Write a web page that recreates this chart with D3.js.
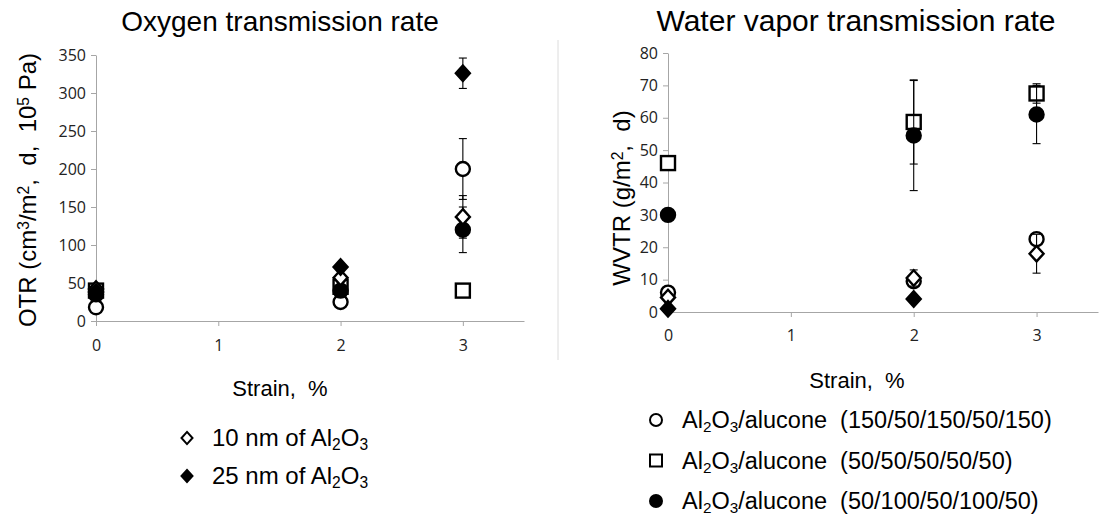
<!DOCTYPE html>
<html>
<head>
<meta charset="utf-8">
<script src="https://cdn.jsdelivr.net/npm/d3@7"></script>
<style>
  body { margin: 0; background: #fff; }
  text { font-family: "Liberation Sans", Arial, sans-serif; fill: #000; }
  .tick text { font-family: "Open Sans", "Liberation Sans", sans-serif; font-size: 16px; fill: #222; }
  .axis path, .axis line { stroke: #a6a6a6; }
</style>
</head>
<body>
<script>
// strain values (x) and tick labels
var strain = [0, 2, 3];
var xTicks = [0, 1, 2, 3];

// oxygen transmission rate
var otrCircle = [18, 25, 200],        otrCircleErr = [0, 0, 40];
var otrSquare = [40, 45, 40],         otrSquareErr = [0, 0, 0];
var otrDot = [35, 40, 120],           otrDotErr = [0, 0, 30];
var otrDiamond = [42, 57, 137],       otrDiamondErr = [0, 0, 28];
var otrDiamondFill = [38, 71, 326],   otrDiamondFillErr = [0, 0, 20];
var otrTicks = [0, 50, 100, 150, 200, 250, 300, 350];

// water vapor transmission rate
var wvtrCircle = [6, 9.5, 22.5],      wvtrCircleErr = [0, 0, 0];
var wvtrSquare = [46, 58.7, 67.5],    wvtrSquareErr = [0, 13, 3];
var wvtrDot = [30, 54.5, 61],         wvtrDotErr = [0, 17, 9];
var wvtrDiamond = [4.5, 10.5, 18],    wvtrDiamondErr = [0, 2.5, 6];
var wvtrDiamondFill = [1, 4, null],   wvtrDiamondFillErr = [0, 0, 0];
var wvtrTicks = [0, 10, 20, 30, 40, 50, 60, 70, 80];

var svg = d3.select("body").append("svg")
    .attr("width", 1111)
    .attr("height", 515);

// marker drawing
function marker(g, shape, size) {
    var s = size;
    if (shape == "circle" || shape == "dot") {
        return g.append("circle").attr("r", s)
            .attr("fill", shape == "dot" ? "#000" : "#fff")
            .attr("stroke", "#000").attr("stroke-width", 2.4);
    }
    if (shape == "square") {
        return g.append("rect").attr("x", -s).attr("y", -s)
            .attr("width", 2 * s).attr("height", 2 * s)
            .attr("fill", "#fff").attr("stroke", "#000").attr("stroke-width", 2.4);
    }
    var d = "M0," + (-s * 1.1) + "L" + s + ",0L0," + (s * 1.1) + "L" + (-s) + ",0Z";
    return g.append("path").attr("d", d)
        .attr("fill", shape == "diamondFill" ? "#000" : "#fff")
        .attr("stroke", "#000").attr("stroke-width", 2.4)
        .attr("stroke-linejoin", "miter");
}

// text with sub/superscripts: parts = [[text, "sub"|"sup"|null], ...]
function richText(sel, parts, fs) {
    parts.forEach(function(p) {
        var t = sel.append("tspan").text(p[0]);
        if (p[1] == "sub") t.attr("font-size", fs * 0.65).attr("baseline-shift", "-25%");
        if (p[1] == "sup") t.attr("font-size", fs * 0.65).attr("baseline-shift", "45%");
    });
    return sel;
}

function drawPanel(o) {
    var x = d3.scaleLinear().domain([0, 3.5]).range(o.xr);
    var y = d3.scaleLinear().domain([0, o.ymax]).range(o.yr);

    svg.append("g")
        .attr("class", "axis x")
        .attr("transform", "translate(0," + o.yr[0] + ")")
        .call(d3.axisBottom(x).tickValues(xTicks).tickFormat(d3.format("d"))
            .tickSize(5).tickSizeOuter(0).tickPadding(o.xpad));

    svg.append("g")
        .attr("class", "axis y")
        .attr("transform", "translate(" + o.xr[0] + ",0)")
        .call(d3.axisLeft(y).tickValues(o.yTicks).tickSize(5).tickSizeOuter(0).tickPadding(5));

    o.series.forEach(function(s) {
        var pts = strain.map(function(v, i) { return { x: v, y: s.values[i], e: s.err[i] }; })
            .filter(function(d) { return d.y != null; });

        var eb = svg.append("g").attr("stroke", "#000").attr("stroke-width", 1.1);
        pts.filter(function(d) { return d.e > 0; }).forEach(function(d) {
            var cx = x(d.x), y0 = y(d.y - d.e), y1 = y(d.y + d.e);
            eb.append("line").attr("x1", cx).attr("x2", cx).attr("y1", y0).attr("y2", y1);
            eb.append("line").attr("x1", cx - 4).attr("x2", cx + 4).attr("y1", y0).attr("y2", y0);
            eb.append("line").attr("x1", cx - 4).attr("x2", cx + 4).attr("y1", y1).attr("y2", y1);
        });

        pts.forEach(function(d) {
            var g = svg.append("g").attr("transform", "translate(" + x(d.x) + "," + y(d.y) + ")");
            marker(g, s.shape, 7);
        });
    });
}

// separator between the two charts
svg.append("line")
    .attr("x1", 558).attr("x2", 558).attr("y1", 40).attr("y2", 360)
    .attr("stroke", "#dcdcdc");

drawPanel({
    xr: [96, 524], yr: [321, 55], ymax: 350, yTicks: otrTicks, xpad: 14,
    series: [
        { shape: "circle", values: otrCircle, err: otrCircleErr },
        { shape: "square", values: otrSquare, err: otrSquareErr },
        { shape: "dot", values: otrDot, err: otrDotErr },
        { shape: "diamond", values: otrDiamond, err: otrDiamondErr },
        { shape: "diamondFill", values: otrDiamondFill, err: otrDiamondFillErr }
    ]
});

drawPanel({
    xr: [668, 1098], yr: [312, 53], ymax: 80, yTicks: wvtrTicks, xpad: 13,
    series: [
        { shape: "circle", values: wvtrCircle, err: wvtrCircleErr },
        { shape: "square", values: wvtrSquare, err: wvtrSquareErr },
        { shape: "dot", values: wvtrDot, err: wvtrDotErr },
        { shape: "diamond", values: wvtrDiamond, err: wvtrDiamondErr },
        { shape: "diamondFill", values: wvtrDiamondFill, err: wvtrDiamondFillErr }
    ]
});

// titles
svg.append("text").attr("x", 280).attr("y", 31).attr("text-anchor", "middle")
    .attr("font-size", 28).text("Oxygen transmission rate");
svg.append("text").attr("x", 856).attr("y", 31).attr("text-anchor", "middle")
    .attr("font-size", 30).text("Water vapor transmission rate");

// y axis titles
richText(svg.append("text")
    .attr("transform", "translate(36,190) rotate(-90)")
    .attr("text-anchor", "middle").attr("font-size", 24).attr("xml:space", "preserve"),
    [["OTR (cm"], ["3", "sup"], ["/m"], ["2", "sup"], [",  d,  10"], ["5", "sup"], [" Pa)"]], 24);

richText(svg.append("text")
    .attr("transform", "translate(630,198) rotate(-90)")
    .attr("text-anchor", "middle").attr("font-size", 24).attr("xml:space", "preserve"),
    [["WVTR (g/m"], ["2", "sup"], [",  d)"]], 24);

// x axis titles
svg.append("text").attr("x", 280).attr("y", 396).attr("text-anchor", "middle")
    .attr("font-size", 22).attr("xml:space", "preserve").text("Strain,  %");
svg.append("text").attr("x", 857).attr("y", 388).attr("text-anchor", "middle")
    .attr("font-size", 22).attr("xml:space", "preserve").text("Strain,  %");

// left legend
var legL = [
    { shape: "diamond", label: [["10 nm of Al"], ["2", "sub"], ["O"], ["3", "sub"]] },
    { shape: "diamondFill", label: [["25 nm of Al"], ["2", "sub"], ["O"], ["3", "sub"]] }
];
legL.forEach(function(l, i) {
    var cy = 438 + i * 38;
    marker(svg.append("g").attr("transform", "translate(187," + cy + ")"), l.shape, 5.5)
        .attr("stroke-width", 2);
    richText(svg.append("text").attr("x", 212).attr("y", cy + 8).attr("font-size", 24), l.label, 24);
});

// right legend
var legR = [
    { shape: "circle", label: [["Al"], ["2", "sub"], ["O"], ["3", "sub"], ["/alucone  (150/50/150/50/150)"]] },
    { shape: "square", label: [["Al"], ["2", "sub"], ["O"], ["3", "sub"], ["/alucone  (50/50/50/50/50)"]] },
    { shape: "dot", label: [["Al"], ["2", "sub"], ["O"], ["3", "sub"], ["/alucone  (50/100/50/100/50)"]] }
];
legR.forEach(function(l, i) {
    var cy = 420 + i * 40.5;
    marker(svg.append("g").attr("transform", "translate(656," + cy + ")"), l.shape, 6)
        .attr("stroke-width", 2);
    richText(svg.append("text").attr("x", 682).attr("y", cy + 8).attr("font-size", 23.5)
        .attr("xml:space", "preserve"), l.label, 23.5);
});
</script>
</body>
</html>
